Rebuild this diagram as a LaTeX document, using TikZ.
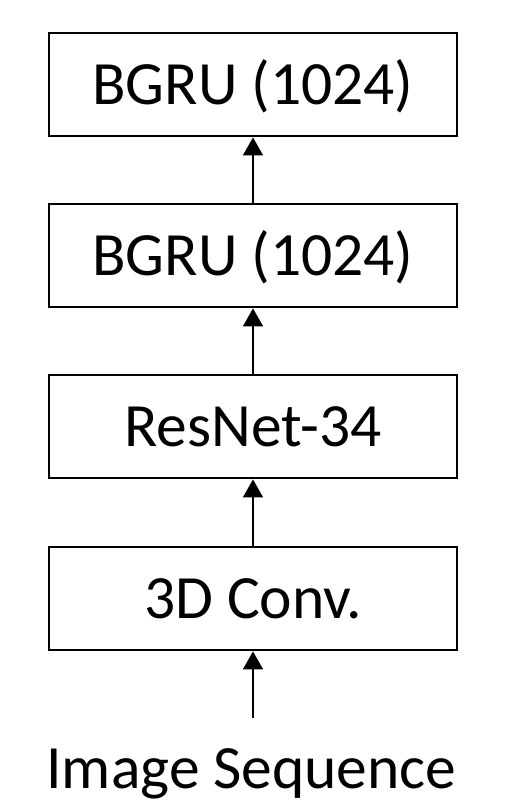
\documentclass[tikz,border=0pt]{standalone}
\usepackage{fontspec}
\setmainfont{Carlito}
\usetikzlibrary{arrows.meta,positioning}
\tikzset{
  layer node/.style={draw=black,line width=1.6pt,fill=white,align=center,
    font=\fontsize{35}{40}\selectfont,minimum width=8.16cm,minimum height=2.06cm,
    inner sep=0pt,text height=0.8cm,text depth=0pt},
  flow arrow/.style={-{Triangle[length=3.6mm,width=4mm]},draw=black,line width=0.75pt}
}

\begin{document}
\begin{tikzpicture}
  \useasboundingbox (0,0) rectangle (10.18,-16.02);
  \node[layer node] (conv) at (5.06,-11.97) {3D Conv.};
  \node[layer node] (resnet) at (5.06,-8.53) {ResNet-34};
  \node[layer node] (bgrua) at (5.06,-5.11) {BGRU (1024)};
  \node[layer node] (bgrub) at (5.06,-1.69) {BGRU (1024)};
  \node[anchor=base,font=\fontsize{35}{40}\selectfont,inner sep=0pt] (input) at (5.03,-15.76) {Image Sequence};
  \coordinate (feed) at (5.06,-14.36);
  \draw[flow arrow] (feed) -- (conv);
  \draw[flow arrow] (conv) -- (resnet);
  \draw[flow arrow] (resnet) -- (bgrua);
  \draw[flow arrow] (bgrua) -- (bgrub);
\end{tikzpicture}
\end{document}
